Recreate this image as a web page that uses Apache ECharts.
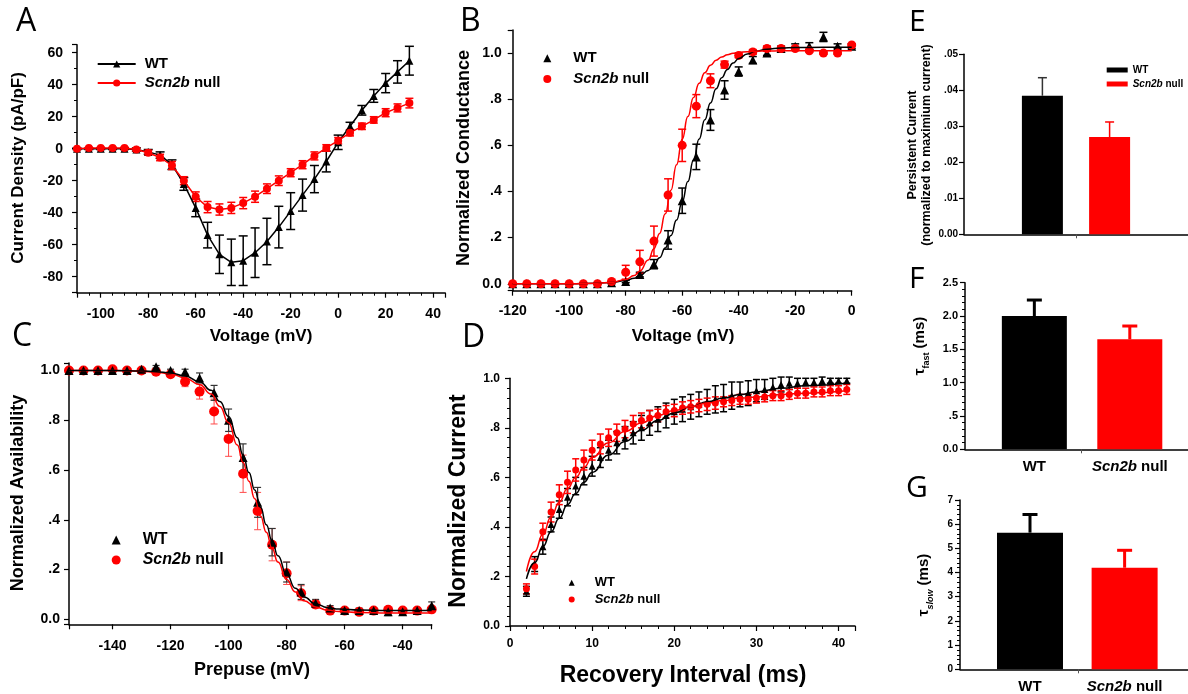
<!DOCTYPE html>
<html>
<head>
<meta charset="utf-8">
<script src="https://cdn.jsdelivr.net/npm/echarts@6/dist/echarts.min.js"></script>
<style>
  html, body { margin: 0; padding: 0; background: #fff; }
  #chart { width: 1188px; height: 694px; }
</style>
</head>
<body>
<div id="chart"></div>
<script>
// ---------------- data ----------------
const groups = ['WT', 'Scn2b null'];

// A: current density vs voltage
const voltageA = [-110, -105, -100, -95, -90, -85, -80, -75, -70, -65, -60, -55, -50, -45, -40, -35, -30, -25, -20, -15, -10, -5, 0, 5, 10, 15, 20, 25, 30];
const wtDensityA = [0, 0, 0, 0, 0, -0.5, -2, -4, -10, -22, -37, -54, -66, -71, -70, -65, -58, -49, -39, -29, -19, -8, 4, 14, 24, 33, 41, 48, 55];
const wtDensityErrA = [0.5, 0.5, 0.5, 0.5, 0.5, 1, 1.5, 2, 3, 4, 5.5, 8, 12, 14.5, 15.5, 15.5, 14.5, 13, 11.5, 10, 8.5, 6.5, 4.5, 2.5, 3, 4, 6, 7, 9];
const nullDensityA = [0, 0.5, 0.5, 0.5, 0.5, -0.5, -2.5, -5.5, -10.5, -20, -30, -36.5, -38, -37, -34, -30, -25, -20, -15, -10, -4.5, 0.5, 5, 10, 14, 18, 22.5, 25.5, 28.5];
const nullDensityErrA = [0.5, 0.5, 0.5, 0.5, 0.5, 1, 1.5, 2, 2.5, 2.5, 3, 3.5, 3.5, 3.5, 3.5, 3.5, 3, 3, 2.5, 2.5, 2.5, 2, 2, 2, 2, 2, 2.5, 2.5, 3];

// B: normalized conductance
const voltageB = [-120, -115, -110, -105, -100, -95, -90, -85, -80, -75, -70, -65, -60, -55, -50, -45, -40, -35, -30, -25, -20, -15, -10, -5, 0];
const wtCondB = [0, 0, 0, 0, 0, 0, 0, 0.005, 0.01, 0.04, 0.085, 0.19, 0.36, 0.55, 0.71, 0.84, 0.92, 0.97, 1.0, 1.02, 1.03, 1.03, 1.07, 1.03, 1.03];
const wtCondErrB = [0, 0, 0, 0, 0, 0, 0, 0.005, 0.005, 0.01, 0.02, 0.04, 0.055, 0.055, 0.045, 0.04, 0.02, 0.015, 0.01, 0.01, 0.01, 0.015, 0.02, 0.01, 0.01];
const nullCondB = [0, 0, 0, 0, 0, 0, 0, 0.01, 0.05, 0.095, 0.185, 0.385, 0.6, 0.77, 0.88, 0.95, 0.99, 1.005, 1.02, 1.02, 1.02, 1.01, 1.0, 1.0, 1.035];
const nullCondErrB = [0, 0, 0, 0, 0, 0, 0, 0.005, 0.03, 0.05, 0.065, 0.07, 0.07, 0.05, 0.03, 0.015, 0.01, 0.01, 0.01, 0.005, 0.005, 0.005, 0.005, 0.005, 0.005];
const fitVoltageB = [-120, -100, -90, -85, -80, -77, -75, -72, -70, -68, -66, -64, -62, -60, -58, -56, -54, -52, -50, -48, -46, -44, -42, -40, -37, -34, -30, -25, -20, -10, 0];
const wtFitB = [0, 0, 0.002, 0.006, 0.014, 0.024, 0.034, 0.058, 0.081, 0.113, 0.155, 0.209, 0.276, 0.355, 0.443, 0.536, 0.627, 0.711, 0.784, 0.845, 0.893, 0.929, 0.957, 0.976, 0.996, 1.008, 1.017, 1.022, 1.024, 1.025, 1.025];
const nullFitB = [0, 0, 0.002, 0.006, 0.019, 0.036, 0.055, 0.103, 0.152, 0.218, 0.303, 0.405, 0.516, 0.626, 0.725, 0.807, 0.869, 0.915, 0.947, 0.969, 0.983, 0.993, 0.999, 1.003, 1.006, 1.008, 1.009, 1.01, 1.01, 1.01, 1.01];

// C: steady-state availability
const voltageC = [-155, -150, -145, -140, -135, -130, -125, -120, -115, -110, -105, -100, -95, -90, -85, -80, -75, -70, -65, -60, -55, -50, -45, -40, -35, -30];
const wtAvailC = [1.0, 1.0, 1.0, 1.0, 1.0, 1.005, 1.015, 1.0, 0.995, 0.97, 0.91, 0.8, 0.65, 0.47, 0.31, 0.19, 0.11, 0.065, 0.045, 0.035, 0.035, 0.035, 0.03, 0.03, 0.035, 0.055];
const wtAvailErrC = [0, 0, 0, 0, 0, 0.005, 0.005, 0.005, 0.01, 0.02, 0.03, 0.045, 0.055, 0.06, 0.055, 0.04, 0.03, 0.015, 0.01, 0.01, 0.01, 0.01, 0.015, 0.01, 0.01, 0.015];
const nullAvailC = [1.0, 1.0, 1.0, 1.005, 1.0, 1.0, 0.995, 0.985, 0.955, 0.915, 0.835, 0.725, 0.585, 0.435, 0.3, 0.185, 0.105, 0.06, 0.035, 0.035, 0.03, 0.035, 0.038, 0.035, 0.035, 0.04];
const nullAvailErrC = [0, 0, 0, 0, 0, 0, 0.005, 0.01, 0.02, 0.03, 0.05, 0.07, 0.075, 0.075, 0.065, 0.045, 0.03, 0.015, 0.01, 0.01, 0.01, 0.01, 0.01, 0.01, 0.01, 0.01];
const fitVoltageC = [-155, -140, -130, -125, -120, -115, -110, -106, -103, -100, -97, -95, -93, -91, -89, -87, -85, -83, -80, -77, -74, -70, -66, -62, -55, -45, -30];
const wtFitC = [1.0, 1.0, 0.998, 0.995, 0.99, 0.978, 0.955, 0.92, 0.875, 0.815, 0.73, 0.66, 0.59, 0.52, 0.45, 0.38, 0.315, 0.255, 0.18, 0.125, 0.09, 0.062, 0.048, 0.041, 0.037, 0.035, 0.035];
const nullFitC = [1.0, 1.0, 0.997, 0.993, 0.986, 0.97, 0.943, 0.905, 0.855, 0.79, 0.7, 0.63, 0.555, 0.485, 0.415, 0.35, 0.285, 0.23, 0.16, 0.11, 0.075, 0.05, 0.037, 0.031, 0.027, 0.025, 0.025];

// D: recovery from inactivation
const intervalD = [2, 3, 4, 5, 6, 7, 8, 9, 10, 11, 12, 13, 14, 15, 16, 17, 18, 19, 20, 21, 22, 23, 24, 25, 26, 27, 28, 29, 30, 31, 32, 33, 34, 35, 36, 37, 38, 39, 40, 41];
const wtRecD = [0.14, 0.25, 0.32, 0.41, 0.47, 0.52, 0.565, 0.605, 0.645, 0.68, 0.71, 0.74, 0.76, 0.78, 0.8, 0.82, 0.835, 0.85, 0.865, 0.875, 0.885, 0.895, 0.905, 0.915, 0.92, 0.93, 0.935, 0.94, 0.95, 0.955, 0.965, 0.975, 0.98, 0.98, 0.985, 0.985, 0.99, 0.99, 0.99, 0.99];
const wtRecErrD = [0.02, 0.03, 0.03, 0.03, 0.035, 0.035, 0.035, 0.035, 0.04, 0.04, 0.04, 0.045, 0.045, 0.045, 0.05, 0.05, 0.05, 0.05, 0.05, 0.05, 0.05, 0.05, 0.05, 0.055, 0.055, 0.055, 0.05, 0.05, 0.045, 0.04, 0.035, 0.03, 0.025, 0.02, 0.015, 0.015, 0.015, 0.01, 0.01, 0.01];
const nullRecD = [0.15, 0.24, 0.38, 0.46, 0.53, 0.58, 0.63, 0.67, 0.71, 0.735, 0.76, 0.78, 0.795, 0.815, 0.83, 0.84, 0.85, 0.865, 0.87, 0.88, 0.885, 0.89, 0.895, 0.9, 0.905, 0.91, 0.915, 0.915, 0.92, 0.925, 0.93, 0.93, 0.935, 0.94, 0.94, 0.945, 0.945, 0.95, 0.95, 0.955];
const nullRecErrD = [0.02, 0.03, 0.035, 0.04, 0.04, 0.045, 0.045, 0.04, 0.04, 0.04, 0.035, 0.035, 0.035, 0.035, 0.03, 0.03, 0.025, 0.025, 0.025, 0.025, 0.025, 0.025, 0.025, 0.025, 0.02, 0.02, 0.02, 0.02, 0.02, 0.02, 0.02, 0.02, 0.02, 0.02, 0.02, 0.02, 0.02, 0.02, 0.02, 0.02];
const fitIntervalD = [2, 3, 4, 5, 6, 7, 8, 9, 10, 12, 14, 16, 18, 20, 22, 24, 26, 28, 30, 33, 36, 41];
const wtFitD = [0.19, 0.255, 0.32, 0.38, 0.435, 0.49, 0.535, 0.58, 0.62, 0.69, 0.745, 0.79, 0.83, 0.86, 0.885, 0.905, 0.92, 0.935, 0.945, 0.96, 0.97, 0.98];
const nullFitD = [0.22, 0.3, 0.37, 0.44, 0.5, 0.555, 0.6, 0.64, 0.68, 0.74, 0.785, 0.82, 0.85, 0.87, 0.885, 0.9, 0.91, 0.92, 0.925, 0.935, 0.94, 0.95];

// E-G: group means and SEM
const persistentMean = [0.0385, 0.027];
const persistentErr = [0.005, 0.0042];
const tauFastMean = [2.0, 1.65];
const tauFastErr = [0.24, 0.2];
const tauSlowMean = [5.65, 4.2];
const tauSlowErr = [0.75, 0.72];

// ---------------- layout & style ----------------
const FONT = '"Liberation Sans", Arial, sans-serif';
const RED = '#ff0000';
const BLACK = '#000000';

const GRIDS = [
  { left: 77,    top: 44.7,  width: 368,   height: 248 },   // A
  { left: 512.7, top: 30,    width: 339,   height: 260.7 }, // B
  { left: 69,    top: 363,   width: 362.7, height: 261.3 }, // C
  { left: 510,   top: 378.3, width: 345,   height: 247.7 }, // D
  { left: 964,   top: 54.3,  width: 224,   height: 180 },   // E
  { left: 965,   top: 282.7, width: 223,   height: 166.6 }, // F
  { left: 960,   top: 500,   width: 228,   height: 169.3 }  // G
];
// bar slot centres and centre tick (fraction of each bar panel's width)
const BAR_SLOTS = { E: [0.35, 0.65], F: [0.311, 0.739], G: [0.307, 0.722] };
const BAR_TICK = { E: 0.5, F: 0.52, G: 0.52 };

const onStep = (v, step) => Math.abs(v / step - Math.round(v / step)) < 1e-6;
const fracLabel = v => {
  const s = v.toFixed(1);
  return (s === '0.0' || s === '1.0') ? s : s.replace(/^(-?)0\./, '$1.');
};

function valueAxis(gridIndex, o) {
  const ax = {
    type: 'value',
    gridIndex,
    min: o.min,
    max: o.max,
    splitLine: { show: false },
    axisLine: { show: true, onZero: false, lineStyle: { color: BLACK, width: 1.5 } },
    axisTick: { show: o.tick !== false, length: 5, lineStyle: { color: BLACK, width: 1.2 } },
    minorTick: { show: !!o.minor, splitNumber: o.minor || 2, length: 3, lineStyle: { color: BLACK, width: 1 } },
    axisLabel: {
      show: o.labels !== false,
      color: BLACK,
      fontFamily: FONT,
      fontWeight: 'bold',
      fontSize: o.fs || 14,
      margin: o.margin || 10,
      formatter: o.fmt
    }
  };
  if (o.step != null) {
    if (onStep(o.min, o.step)) {
      ax.interval = o.step;
    } else {
      ax.minInterval = o.step;
      ax.maxInterval = o.step;
    }
  }
  return ax;
}

function pairs(xs, ys) { return xs.map((x, i) => [x, ys[i]]); }

function errorBars(gridIndex, xs, means, errs, color, lineWidth, capWidth, oneSided) {
  return {
    type: 'custom',
    xAxisIndex: gridIndex,
    yAxisIndex: gridIndex,
    silent: true,
    data: xs.map((x, i) => [x, oneSided ? means[i] : means[i] - errs[i], means[i] + errs[i]]),
    encode: { x: 0, y: [1, 2] },
    renderItem: (params, api) => {
      const lo = api.coord([api.value(0), api.value(1)]);
      const hi = api.coord([api.value(0), api.value(2)]);
      const h = capWidth / 2;
      const style = { stroke: color, lineWidth, fill: null };
      const children = [
        { type: 'line', shape: { x1: lo[0], y1: lo[1], x2: hi[0], y2: hi[1] }, style },
        { type: 'line', shape: { x1: hi[0] - h, y1: hi[1], x2: hi[0] + h, y2: hi[1] }, style }
      ];
      if (!oneSided) {
        children.push({ type: 'line', shape: { x1: lo[0] - h, y1: lo[1], x2: lo[0] + h, y2: lo[1] }, style });
      }
      return { type: 'group', children };
    }
  };
}

function markers(name, gridIndex, xs, ys, color, symbol, size) {
  return {
    name, type: 'scatter', xAxisIndex: gridIndex, yAxisIndex: gridIndex,
    symbol, symbolSize: size, itemStyle: { color, opacity: 1 },
    data: pairs(xs, ys)
  };
}

function fitCurve(gridIndex, xs, ys, color) {
  return {
    type: 'line', xAxisIndex: gridIndex, yAxisIndex: gridIndex,
    showSymbol: false, symbol: 'none', smooth: true, smoothMonotone: 'x',
    lineStyle: { color, width: 1.5 }, silent: true,
    data: pairs(xs, ys)
  };
}

function bars(key, gridIndex, means, barWidth) {
  return means.map((m, i) => ({
    name: (i === 0 ? 'WT-' : 'null-') + key,
    type: 'bar', xAxisIndex: gridIndex, yAxisIndex: gridIndex,
    barWidth, barGap: '-100%',
    itemStyle: { color: i === 0 ? BLACK : RED },
    data: [[BAR_SLOTS[key][i], m]]
  }));
}

function legendAt(names, left, top, o) {
  return {
    data: names, left, top, orient: 'vertical', selectedMode: false, padding: 0,
    itemWidth: o.iw, itemHeight: o.ih, itemGap: o.gap, icon: o.icon,
    formatter: n => n.startsWith('WT') ? 'WT' : '{i|Scn2b} null',
    textStyle: {
      color: BLACK, fontFamily: FONT, fontWeight: 'bold', fontSize: o.fs, lineHeight: o.lh,
      padding: [0, 0, 0, o.pad],
      rich: { i: { fontStyle: 'italic', fontWeight: 'bold', fontFamily: FONT, fontSize: o.fs, lineHeight: o.lh, color: BLACK } }
    }
  };
}

function title(text, x, y, size, rotated, extra) {
  return {
    type: 'text', x, y, rotation: rotated ? Math.PI / 2 : 0, silent: true,
    style: Object.assign({
      text, fill: BLACK, fontFamily: FONT, fontWeight: 'bold', fontSize: size,
      align: 'center', verticalAlign: 'middle'
    }, extra || {})
  };
}

function panelLetter(ch, x, y, size) {
  return {
    type: 'text', x, y, silent: true,
    style: { text: ch, fill: BLACK, fontFamily: '"Open Sans", sans-serif', fontWeight: 'normal', fontSize: size, align: 'left', verticalAlign: 'middle' }
  };
}

function tauTitle(sub, italicSub, x, y) {
  return {
    type: 'text', x, y, rotation: Math.PI / 2, silent: true,
    style: {
      text: '{t|τ}{s|' + sub + '}{t| (ms)}',
      fill: BLACK, align: 'center', verticalAlign: 'middle',
      rich: {
        t: { fontFamily: FONT, fontWeight: 'bold', fontSize: 15, padding: [0, 0, 4, 0], verticalAlign: 'bottom' },
        s: { fontFamily: FONT, fontWeight: 'bold', fontStyle: italicSub ? 'italic' : 'normal', fontSize: 9, verticalAlign: 'bottom' }
      }
    }
  };
}

const groupLabel = v => {
  const k = Math.abs(v - BAR_SLOTS.F[0]) < 0.01 || Math.abs(v - BAR_SLOTS.G[0]) < 0.01 ? 0 : 1;
  return k === 0 ? groups[0] : '{i|Scn2b} null';
};

function barXAxis(gridIndex, key, withLabels) {
  return {
    type: 'value', gridIndex, min: 0, max: 1,
    splitLine: { show: false },
    axisLine: { show: true, onZero: false, lineStyle: { color: BLACK, width: 1.5 } },
    axisTick: { show: true, length: 4, customValues: [BAR_TICK[key]], lineStyle: { color: '#555', width: 1 } },
    axisLabel: withLabels ? {
      show: true, customValues: BAR_SLOTS[key], formatter: groupLabel,
      color: BLACK, fontFamily: FONT, fontWeight: 'bold', fontSize: 15, margin: 10,
      rich: { i: { fontStyle: 'italic', fontWeight: 'bold', fontFamily: FONT, fontSize: 15, color: BLACK } }
    } : { show: false }
  };
}

// ---------------- option ----------------
const option = {
  animation: false,
  backgroundColor: '#ffffff',
  grid: GRIDS.map(g => Object.assign({ containLabel: false, outerBoundsMode: 'none' }, g)),
  xAxis: [
    valueAxis(0, { min: -110, max: 45, step: 20, minor: 4, margin: 14, fmt: v => onStep(v, 20) ? String(v) : '' }),
    valueAxis(1, { min: -120, max: 0, step: 20, minor: 4, margin: 13, fmt: v => onStep(v, 20) ? String(v) : '' }),
    valueAxis(2, { min: -155, max: -30, step: 20, margin: 15, fmt: v => onStep(v, 20) ? String(v) : '' }),
    valueAxis(3, { min: 0, max: 42, step: 10, minor: 5, fs: 12, margin: 12, fmt: v => onStep(v, 10) ? String(v) : '' }),
    barXAxis(4, 'E', false),
    barXAxis(5, 'F', true),
    barXAxis(6, 'G', true)
  ],
  yAxis: [
    valueAxis(0, { min: -90, max: 65, step: 20, minor: 2, margin: 14, fmt: v => onStep(v, 20) ? String(v) : '' }),
    valueAxis(1, { min: -0.03, max: 1.1, step: 0.2, margin: 11, fmt: v => onStep(v, 0.2) ? fracLabel(v) : '' }),
    valueAxis(2, { min: -0.02, max: 1.03, step: 0.2, margin: 9, fmt: v => onStep(v, 0.2) ? fracLabel(v) : '' }),
    valueAxis(3, { min: 0, max: 1, step: 0.2, minor: 5, fs: 12, margin: 10, fmt: v => fracLabel(v) }),
    valueAxis(4, { min: 0, max: 0.05, step: 0.01, fs: 10, margin: 6, fmt: v => v === 0 ? '0.00' : v.toFixed(2).replace(/^0\./, '.') }),
    valueAxis(5, { min: 0, max: 2.5, step: 0.5, minor: 5, fs: 11, margin: 7, fmt: v => v === 0 ? '0.0' : (v < 1 ? v.toFixed(1).replace(/^0\./, '.') : v.toFixed(1)) }),
    valueAxis(6, { min: 0, max: 7, step: 1, minor: 5, fs: 10, margin: 7, fmt: v => String(v) })
  ],
  legend: [
    legendAt(['WT-A', 'null-A'], 96.7, 56, { iw: 38, ih: 9, gap: 3, fs: 15, lh: 16, pad: 4 }),
    legendAt(['WT-B', 'null-B'], 543.3, 50.3, { iw: 8, ih: 8, gap: 4.7, fs: 15, lh: 16, pad: 17 }),
    legendAt(['WT-C', 'null-C'], 111.7, 532, { iw: 9, ih: 9, gap: 4, fs: 16, lh: 16, pad: 17 }),
    legendAt(['WT-D', 'null-D'], 568.7, 575.7, { iw: 6, ih: 6, gap: 2.7, fs: 13, lh: 14, pad: 15 }),
    legendAt(['WT-E', 'null-E'], 1106.7, 64.5, { iw: 21, ih: 5, gap: 3, fs: 10, lh: 11, pad: 0, icon: 'rect' })
  ],
  series: [
    // A
    errorBars(0, voltageA, wtDensityA, wtDensityErrA, BLACK, 1.5, 9, false),
    errorBars(0, voltageA, nullDensityA, nullDensityErrA, RED, 1.5, 8, false),
    {
      name: 'WT-A', type: 'line', xAxisIndex: 0, yAxisIndex: 0,
      symbol: 'triangle', symbolSize: 8, showSymbol: true,
      lineStyle: { color: BLACK, width: 1.5 }, itemStyle: { color: BLACK },
      data: pairs(voltageA, wtDensityA)
    },
    {
      name: 'null-A', type: 'line', xAxisIndex: 0, yAxisIndex: 0,
      symbol: 'circle', symbolSize: 8, showSymbol: true,
      lineStyle: { color: RED, width: 1.5 }, itemStyle: { color: RED },
      data: pairs(voltageA, nullDensityA)
    },
    // B
    fitCurve(1, fitVoltageB, wtFitB, BLACK),
    fitCurve(1, fitVoltageB, nullFitB, RED),
    errorBars(1, voltageB, wtCondB, wtCondErrB, BLACK, 1.5, 8, false),
    errorBars(1, voltageB, nullCondB, nullCondErrB, RED, 1.5, 8, false),
    markers('WT-B', 1, voltageB, wtCondB, BLACK, 'triangle', 9),
    markers('null-B', 1, voltageB, nullCondB, RED, 'circle', 9),
    // C
    fitCurve(2, fitVoltageC, nullFitC, RED),
    fitCurve(2, fitVoltageC, wtFitC, BLACK),
    errorBars(2, voltageC, nullAvailC, nullAvailErrC, '#ff4a4a', 1, 7, false),
    markers('null-C', 2, voltageC, nullAvailC, RED, 'circle', 10),
    errorBars(2, voltageC, wtAvailC, wtAvailErrC, '#333333', 1.2, 7, false),
    markers('WT-C', 2, voltageC, wtAvailC, BLACK, 'triangle', 9),
    // D
    fitCurve(3, fitIntervalD, wtFitD, BLACK),
    errorBars(3, intervalD, wtRecD, wtRecErrD, BLACK, 1.5, 7, false),
    markers('WT-D', 3, intervalD, wtRecD, BLACK, 'triangle', 7),
    fitCurve(3, fitIntervalD, nullFitD, RED),
    errorBars(3, intervalD, nullRecD, nullRecErrD, RED, 1.5, 7, false),
    markers('null-D', 3, intervalD, nullRecD, RED, 'circle', 7),
    // E
    ...bars('E', 4, persistentMean, 41),
    errorBars(4, [BAR_SLOTS.E[0]], [persistentMean[0]], [persistentErr[0]], '#333333', 1.5, 9, true),
    errorBars(4, [BAR_SLOTS.E[1]], [persistentMean[1]], [persistentErr[1]], RED, 1.5, 9, true),
    // F
    ...bars('F', 5, tauFastMean, 65),
    errorBars(5, [BAR_SLOTS.F[0]], [tauFastMean[0]], [tauFastErr[0]], BLACK, 3, 15, true),
    errorBars(5, [BAR_SLOTS.F[1]], [tauFastMean[1]], [tauFastErr[1]], RED, 3, 15, true),
    // G
    ...bars('G', 6, tauSlowMean, 66),
    errorBars(6, [BAR_SLOTS.G[0]], [tauSlowMean[0]], [tauSlowErr[0]], BLACK, 3, 15, true),
    errorBars(6, [BAR_SLOTS.G[1]], [tauSlowMean[1]], [tauSlowErr[1]], RED, 3, 15, true)
  ],
  graphic: [
    panelLetter('A', 16, 21.5, 32),
    panelLetter('B', 460, 21.5, 32),
    panelLetter('C', 12, 337, 32),
    panelLetter('D', 462, 338, 32),
    panelLetter('E', 909, 22.5, 30),
    panelLetter('F', 909, 279, 30),
    panelLetter('G', 906, 488, 30),

    title('Current Density (pA/pF)', 18, 168, 17, true),
    title('Voltage (mV)', 261, 336, 17, false),
    title('Normalized Conductance', 464, 158, 18, true),
    title('Voltage (mV)', 683, 336, 17, false),
    title('Normalized Availability', 18, 493, 18, true),
    title('Prepuse (mV)', 252, 670, 18, false),
    title('Normalized Current', 459, 501, 23, true),
    title('Recovery Interval (ms)', 683, 676, 23, false),
    title('Persistent Current\n(normalized to maximium current)', 920, 145, 12.5, true, { lineHeight: 14 }),
    tauTitle('fast', false, 922, 346),
    tauTitle('slow', true, 926, 585)
  ]
};

const chart = echarts.init(document.getElementById('chart'), null, { renderer: 'canvas', width: 1188, height: 694 });
chart.setOption(option);
</script>
</body>
</html>
